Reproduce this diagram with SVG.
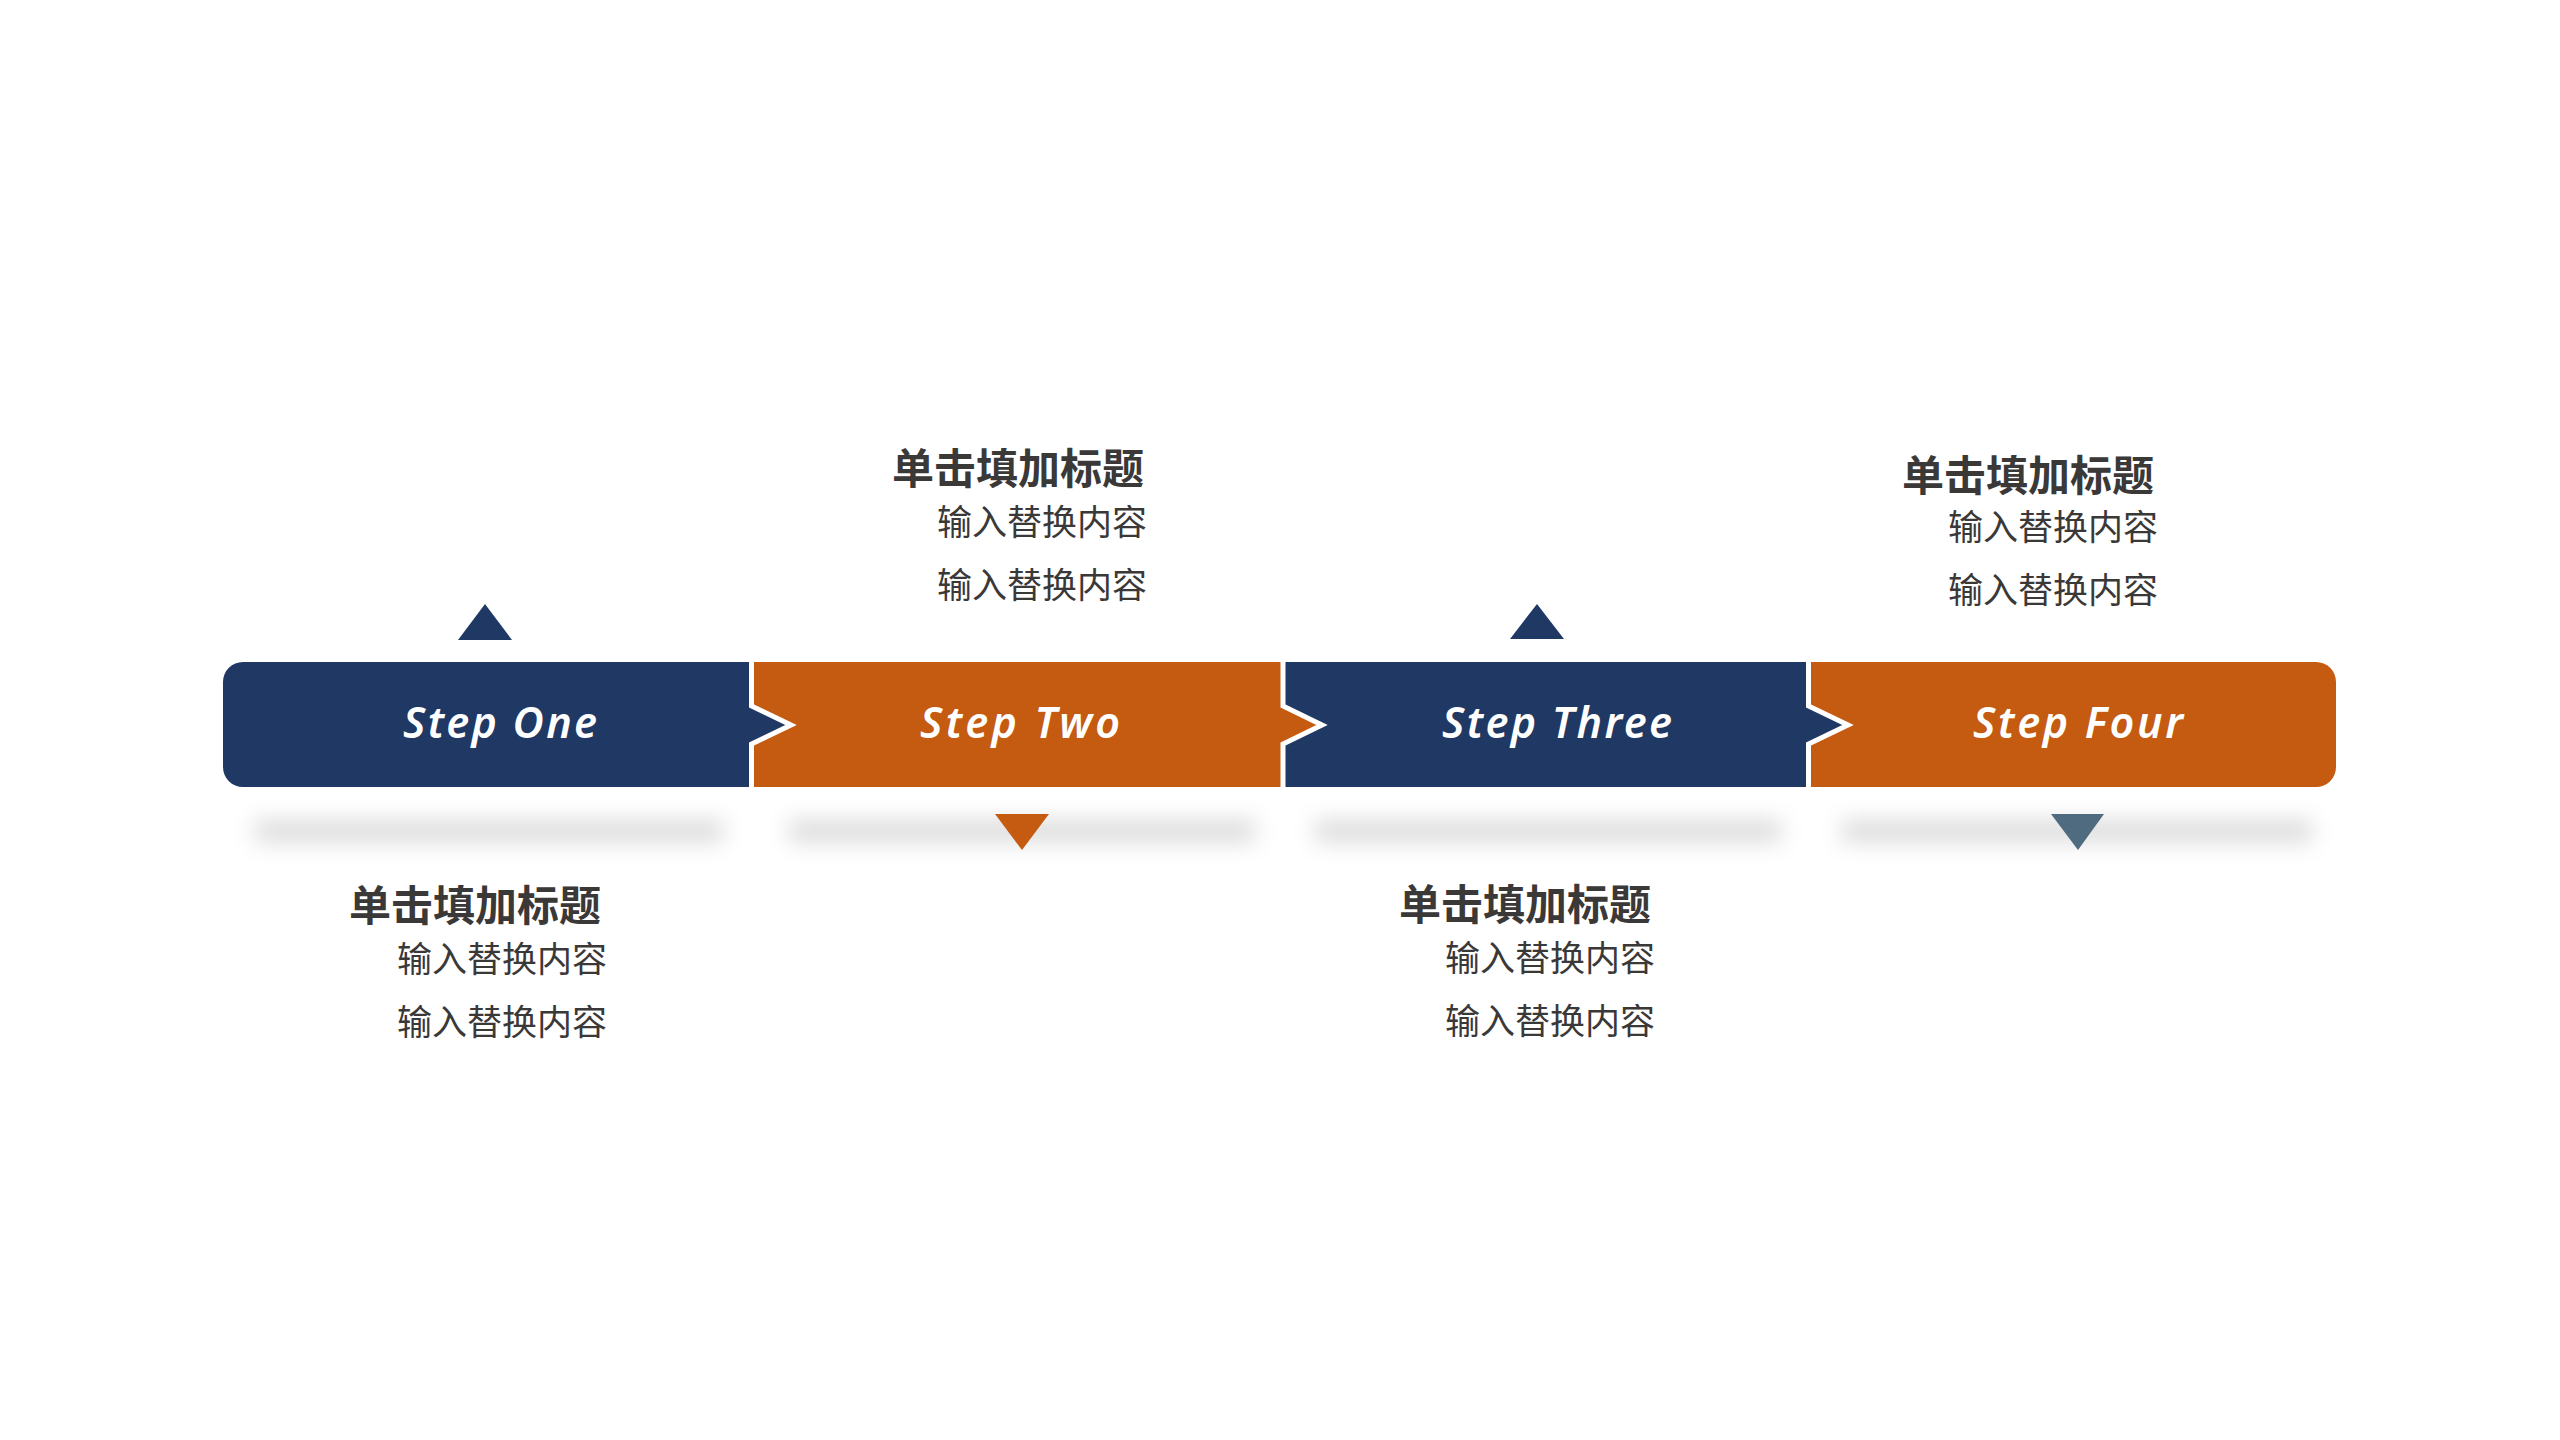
<svg xmlns="http://www.w3.org/2000/svg" width="2560" height="1440" viewBox="0 0 2560 1440">
  <defs>
    <filter id="blur" x="-20%" y="-400%" width="140%" height="900%">
      <feGaussianBlur stdDeviation="11"/>
    </filter>
    <style>
      .navy { fill: #203864; }
      .orange { fill: #C55A11; }
      .slate { fill: #4F6B80; }
      .sep { fill: none; stroke: #FFFFFF; stroke-width: 5; stroke-linejoin: miter; }
      .step { font-family: "Noto Sans", "Open Sans", sans-serif; font-style: italic; font-weight: 600; font-size: 43px; fill: #FFFFFF; }
      .title { font-family: "Noto Sans CJK SC", "Noto Sans", sans-serif; font-weight: 700; font-size: 42px; fill: #3B3838; }
      .body { font-family: "Noto Sans CJK SC", "Noto Sans", sans-serif; font-weight: 400; font-size: 35px; fill: #3B3838; }
      .shadow { fill: #000000; opacity: 0.14; }
    </style>
  </defs>
  <rect width="2560" height="1440" fill="#FFFFFF"/>

  <g id="shadows" filter="url(#blur)">
    <rect class="shadow" x="255" y="820" width="468" height="22"/>
    <rect class="shadow" x="789" y="820" width="466" height="22"/>
    <rect class="shadow" x="1315" y="820" width="466" height="22"/>
    <rect class="shadow" x="1842" y="820" width="470" height="22"/>
  </g>

  <g id="step4">
    <path class="orange" d="M1805,662 H2316 A20,20 0 0 1 2336,682 V767 A20,20 0 0 1 2316,787 H1805 Z"/>
    <text class="step" x="2078" y="738" text-anchor="middle" textLength="210" lengthAdjust="spacing">Step Four</text>
    <polygon class="slate" points="2051,814 2104,814 2078,850"/>
    <text class="title" x="1902" y="491">单击填加标题</text>
    <text class="body" x="1948" y="540">输入替换内容</text>
    <text class="body" x="1948" y="603">输入替换内容</text>
  </g>

  <g id="step3">
    <path class="navy" d="M1280,662 H1808.5 V706 L1848,725 L1808.5,744 V787 H1280 Z"/>
    <path class="sep" d="M1808.5,660 V706 L1848,725 L1808.5,744 V789"/>
    <text class="step" x="1557" y="738" text-anchor="middle" textLength="230" lengthAdjust="spacing">Step Three</text>
    <polygon class="navy" points="1537,604 1510,639 1564,639"/>
    <text class="title" x="1399" y="920">单击填加标题</text>
    <text class="body" x="1445" y="971">输入替换内容</text>
    <text class="body" x="1445" y="1034">输入替换内容</text>
  </g>

  <g id="step2">
    <path class="orange" d="M749,662 H1283 V706 L1322,725 L1283,744 V787 H749 Z"/>
    <path class="sep" d="M1283,660 V706 L1322,725 L1283,744 V789"/>
    <text class="step" x="1020" y="738" text-anchor="middle" textLength="200" lengthAdjust="spacing">Step Two</text>
    <polygon class="orange" points="995,814 1049,814 1022,850"/>
    <text class="title" x="892" y="484">单击填加标题</text>
    <text class="body" x="937" y="535">输入替换内容</text>
    <text class="body" x="937" y="598">输入替换内容</text>
  </g>

  <g id="step1">
    <path class="navy" d="M243,662 H751.5 V706 L791,725 L751.5,744 V787 H243 A20,20 0 0 1 223,767 V682 A20,20 0 0 1 243,662 Z"/>
    <path class="sep" d="M751.5,660 V706 L791,725 L751.5,744 V789"/>
    <text class="step" x="500" y="738" text-anchor="middle" textLength="194" lengthAdjust="spacing">Step One</text>
    <polygon class="navy" points="485,604 458,640 512,640"/>
    <text class="title" x="349" y="921">单击填加标题</text>
    <text class="body" x="397" y="972">输入替换内容</text>
    <text class="body" x="397" y="1035">输入替换内容</text>
  </g>
</svg>
